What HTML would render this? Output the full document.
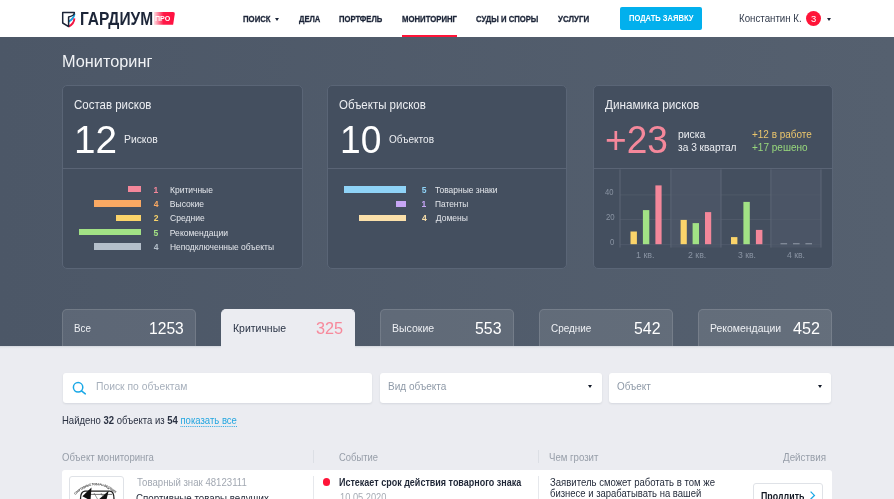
<!DOCTYPE html>
<html lang="ru"><head><meta charset="utf-8"><title>Мониторинг — Гардиум</title>
<style>
*{box-sizing:border-box;margin:0;padding:0}
html,body{width:894px;height:499px;overflow:hidden;background:#ebecf1}
body{position:relative;font-family:'Liberation Sans',Arial,sans-serif}
.t{position:absolute;white-space:nowrap;line-height:1;transform-origin:0 0}
.t b{font-weight:700}
.lt{-webkit-text-stroke:0.9px var(--bg)}
.nv{-webkit-text-stroke:0.3px currentColor}
.lnk{color:#24a6e0;border-bottom:1px dotted #24a6e0}
.abs{position:absolute}
#hdr{left:0;top:0;width:894px;height:37px;background:#fff}
#dark{left:0;top:37px;width:894px;height:309px;background:linear-gradient(90deg,#4c5767,#55606f)}
.card{position:absolute;top:85px;height:184px;background:#444f5f;border:1px solid #5a6576;border-radius:5px;overflow:hidden}
.card .div{position:absolute;left:0;right:0;top:82px;height:1px;background:#5a6475}
.bar{position:absolute;height:6.4px}
.tab{position:absolute;top:309px;width:134px;height:37px;background:rgba(255,255,255,0.095);border:1px solid rgba(255,255,255,0.12);border-bottom:none;border-radius:5px 5px 0 0}
.tab.act{background:#ebecf1;border-color:#ebecf1;height:41px}
.inp{position:absolute;top:372.6px;height:30px;background:#fff;border-radius:3px;box-shadow:0 1px 2px rgba(60,70,90,.12)}
.caret{position:absolute;width:0;height:0;border-left:2.3px solid transparent;border-right:2.3px solid transparent;border-top:3px solid #1c2538}
.caret.lg{border-left-width:2.4px;border-right-width:2.4px;border-top-width:3.4px;border-top-color:#111827}
.vsep{position:absolute;width:1px;background:#dcdfe5}
</style></head><body>
<div id="hdr" class="abs"></div>
<!-- logo shield -->
<svg class="abs" style="left:60px;top:9px" width="18" height="20" viewBox="0 0 18 20">
  <path d="M14.5 4.6 C14.2 8.2 12.2 10.6 8.6 12.6" fill="none" stroke="#1aa3e3" stroke-width="1.9"/>
  <path d="M14.4 9.4 C14.2 13.2 12.2 15.8 8.6 17.6" fill="none" stroke="#f21643" stroke-width="1.9"/>
  <path d="M2.7 3.4 H14.3 V4.2 C14.1 6.2 12.6 7.0 8.6 7.9 V17.6 L2.7 14.0 Z" fill="none" stroke="#1c2538" stroke-width="1.5" stroke-linejoin="round"/>
</svg>
<!-- ПРО badge -->
<div class="abs" style="left:153.5px;top:11.7px;width:21.6px;height:13px;border-radius:0 2px 2px 0;background:linear-gradient(90deg,rgba(255,20,60,.15) 0%,#ff1a48 45%,#ff0f3f 100%);clip-path:polygon(0 0,100% 0,91% 100%,0 100%)"></div>
<!-- nav carets -->
<div class="caret" style="left:275px;top:17.7px"></div>
<div class="abs" style="left:401.9px;top:35px;width:55px;height:2px;background:#ff1438"></div>
<div class="abs" style="left:619.5px;top:7px;width:82.6px;height:23.2px;background:#02b0ed;border-radius:2px"></div>
<div class="abs" style="left:806.3px;top:11px;width:15px;height:15px;border-radius:50%;background:#ff1438"></div>
<div class="caret" style="left:826.9px;top:18px"></div>

<div id="dark" class="abs"></div>
<div class="card" style="left:62px;width:241px"><div class="div"></div></div>
<div class="card" style="left:327px;width:240px"><div class="div"></div></div>
<div class="card" style="left:593px;width:240px"><div class="div"></div></div>

<!-- card1 bars -->
<div class="bar" style="left:128px;width:13px;top:186px;background:#f4879a"></div>
<div class="bar" style="left:93.7px;width:47.3px;top:200.3px;background:#faa963"></div>
<div class="bar" style="left:115.8px;width:25.2px;top:214.7px;background:#fbd46a"></div>
<div class="bar" style="left:79px;width:62px;top:229px;background:#a2e285"></div>
<div class="bar" style="left:93.7px;width:47.3px;top:243.2px;background:#b4bfca"></div>
<!-- card2 bars -->
<div class="bar" style="left:343.9px;width:62px;top:186.2px;background:#8fd3f7"></div>
<div class="bar" style="left:396.1px;width:9.9px;top:200.8px;background:#c7a6f5"></div>
<div class="bar" style="left:359.3px;width:46.6px;top:214.7px;background:#fbe0aa"></div>

<!-- chart -->
<svg class="abs" style="left:593.6px;top:168.6px" width="240" height="100" viewBox="593.6 168.6 240 100">
  <rect x="670.5" y="169.1" width="50.1" height="78.1" fill="#4b5566"/>
  <rect x="770.5" y="169.1" width="50.1" height="78.1" fill="#4b5566"/>
  <g stroke="#4f5969" stroke-width="1">
    <line x1="619.6" y1="194.5" x2="820.6" y2="194.5"/>
    <line x1="619.6" y1="219.1" x2="820.6" y2="219.1"/>
    <line x1="619.6" y1="244.2" x2="820.6" y2="244.2"/>
  </g>
  <g stroke="#5d6776" stroke-width="1">
    <line x1="619.6" y1="169" x2="619.6" y2="247.2"/>
    <line x1="670.5" y1="169" x2="670.5" y2="247.2"/>
    <line x1="720.6" y1="169" x2="720.6" y2="247.2"/>
    <line x1="770.5" y1="169" x2="770.5" y2="247.2"/>
    <line x1="820.6" y1="169" x2="820.6" y2="247.2"/>
  </g>
  <rect x="630.1" y="231.1" width="6.4" height="12.7" fill="#fbd46a"/>
  <rect x="642.5" y="209.7" width="6.4" height="34.1" fill="#a2e285"/>
  <rect x="655.0" y="185.0" width="6.2" height="58.8" fill="#f4879a"/>
  <rect x="680.2" y="219.5" width="6.2" height="24.3" fill="#fbd46a"/>
  <rect x="692.2" y="222.7" width="6.4" height="21.1" fill="#a2e285"/>
  <rect x="704.6" y="211.7" width="6.2" height="32.1" fill="#f4879a"/>
  <rect x="730.6" y="236.7" width="6.4" height="7.1" fill="#fbd46a"/>
  <rect x="743.0" y="201.5" width="6.4" height="42.3" fill="#a2e285"/>
  <rect x="755.5" y="229.5" width="6.5" height="14.3" fill="#f4879a"/>
  <g fill="#8d96a3">
    <rect x="780.1" y="242.8" width="6.6" height="1.1"/>
    <rect x="792.6" y="242.8" width="6.6" height="1.1"/>
    <rect x="805.0" y="242.8" width="6.6" height="1.1"/>
  </g>
</svg>

<div class="abs" style="left:0;top:346px;width:894px;height:3px;background:linear-gradient(#d3d6dd,#e7e9ee 60%,#ebecf1)"></div>
<!-- tabs -->
<div class="tab" style="left:62px"></div>
<div class="tab act" style="left:221px"></div>
<div class="tab" style="left:380px"></div>
<div class="tab" style="left:539px"></div>
<div class="tab" style="left:698px"></div>

<!-- inputs -->
<div class="inp" style="left:62.9px;width:308.8px"></div>
<div class="inp" style="left:379.6px;width:222.2px"></div>
<div class="inp" style="left:609.4px;width:222px"></div>
<svg class="abs" style="left:70px;top:379px" width="20" height="18" viewBox="0 0 20 18">
  <circle cx="8.1" cy="8.3" r="4.7" fill="none" stroke="#1aa8e6" stroke-width="1.5"/>
  <line x1="11.5" y1="11.8" x2="15.3" y2="14.9" stroke="#1aa8e6" stroke-width="1.5" stroke-linecap="round"/>
</svg>
<div class="caret lg" style="left:587.8px;top:385.4px"></div>
<div class="caret lg" style="left:817.5px;top:385.4px"></div>

<!-- table -->
<div class="vsep" style="left:313.4px;top:450px;height:13px"></div>
<div class="vsep" style="left:537.6px;top:450px;height:13px"></div>
<div class="abs" style="left:62px;top:470.2px;width:769.7px;height:40px;background:#fff;border-radius:3px"></div>
<div class="vsep" style="left:313.4px;top:475.5px;height:30px;background:#e6e8ec"></div>
<div class="vsep" style="left:537.6px;top:475.5px;height:30px;background:#e6e8ec"></div>
<div class="abs" style="left:68.5px;top:476.2px;width:55.2px;height:30px;border:1px solid #dfe2e7;border-radius:3px"></div>
<svg class="abs" style="left:68px;top:476px" width="56" height="23" viewBox="0 0 56 23">
  <defs><path id="arc" d="M7.2 19 Q27.8 -0.6 49.2 19"/></defs>
  <text font-family="Liberation Sans, sans-serif" font-size="3.2" font-weight="700" fill="#2a2a2a" textLength="45" lengthAdjust="spacingAndGlyphs"><textPath href="#arc" textLength="45" lengthAdjust="spacingAndGlyphs">СПОРТИВНЫЕ ТОВАРЫ ВЕДУЩИХ</textPath></text>
  <path d="M12.5 23 C12.5 17.4 14 15.4 17 15.2 H42 C45 15.4 46 17.6 46 23" fill="none" stroke="#222" stroke-width="1.3"/>
  <path d="M17 18.4 H44" stroke="#333" stroke-width="0.7"/>
  <path d="M23.5 11.6 L14.4 20.3 L19.6 23 L22.6 23 Z" fill="#111"/>
  <path d="M40.7 14.7 L31.3 23 L38.6 23 Z" fill="#111"/>
  <path d="M26 17 L29.5 23 M33 17 L35 21" stroke="#555" stroke-width="0.6"/>
</svg>
<div class="abs" style="left:322.7px;top:478.4px;width:7.6px;height:7.6px;border-radius:50%;background:#ff1438"></div>
<div class="abs" style="left:752.5px;top:483.4px;width:70.8px;height:24px;border:1px solid #dfe2e7;border-radius:3px"></div>
<svg class="abs" style="left:808px;top:490px" width="10" height="10" viewBox="0 0 10 10">
  <path d="M2.6 1.6 L6.4 5.4 L2.6 9.2" fill="none" stroke="#1aa8e6" stroke-width="1.3"/>
</svg>

<div class="t" style="left:79.50px;top:9.63px;font-size:18.55px;font-weight:700;color:#1c2538;transform:scaleX(0.8365);">ГАРДИУМ</div>
<div class="t nv" style="left:242.50px;top:14.94px;font-size:9.13px;font-weight:700;color:#1c2538;transform:scaleX(0.8520);">ПОИСК</div>
<div class="t nv" style="left:299.00px;top:14.94px;font-size:9.13px;font-weight:700;color:#1c2538;transform:scaleX(0.8357);">ДЕЛА</div>
<div class="t nv" style="left:339.30px;top:14.94px;font-size:9.13px;font-weight:700;color:#1c2538;transform:scaleX(0.8384);">ПОРТФЕЛЬ</div>
<div class="t nv" style="left:401.60px;top:14.94px;font-size:9.13px;font-weight:700;color:#1c2538;transform:scaleX(0.8492);">МОНИТОРИНГ</div>
<div class="t nv" style="left:475.80px;top:14.94px;font-size:9.13px;font-weight:700;color:#1c2538;transform:scaleX(0.8425);">СУДЫ И СПОРЫ</div>
<div class="t nv" style="left:557.60px;top:14.94px;font-size:9.13px;font-weight:700;color:#1c2538;transform:scaleX(0.8667);">УСЛУГИ</div>
<div class="t" style="left:628.70px;top:13.73px;font-size:8.55px;font-weight:700;color:#ffffff;transform:scaleX(0.8851);">ПОДАТЬ ЗАЯВКУ</div>
<div class="t" style="left:738.80px;top:13.90px;font-size:10.0px;font-weight:400;color:#323b4c;transform:scaleX(0.9721);">Константин К.</div>
<div class="t" style="left:155.20px;top:15.56px;font-size:6.52px;font-weight:700;color:#ffffff;transform:scaleX(1.0907);">ПРО</div>
<div class="t" style="left:810.80px;top:15.16px;font-size:8.99px;font-weight:400;color:#ffffff;transform:scaleX(1.0480);">3</div>
<div class="t" style="left:61.60px;top:54.26px;font-size:16.52px;font-weight:400;color:#f0f2f5;transform:scaleX(0.9872);">Мониторинг</div>
<div class="t" style="left:74.40px;top:99.43px;font-size:12.32px;font-weight:400;color:#eceef2;transform:scaleX(0.9327);">Состав рисков</div>
<div class="t" style="left:339.00px;top:99.43px;font-size:12.32px;font-weight:400;color:#eceef2;transform:scaleX(0.9337);">Объекты рисков</div>
<div class="t" style="left:604.90px;top:98.83px;font-size:12.32px;font-weight:400;color:#eceef2;transform:scaleX(0.9527);">Динамика рисков</div>
<div class="t" style="left:74.30px;top:119.84px;font-size:39.13px;font-weight:400;color:#ffffff;transform:scaleX(0.9885);">12</div>
<div class="t" style="left:339.80px;top:119.84px;font-size:39.13px;font-weight:400;color:#ffffff;transform:scaleX(0.9500);">10</div>
<div class="t" style="left:605.30px;top:119.84px;font-size:39.13px;font-weight:400;color:#f5889b;transform:scaleX(0.9474);">+23</div>
<div class="t" style="left:124.20px;top:134.53px;font-size:10.43px;font-weight:400;color:#eceef2;transform:scaleX(0.9939);">Рисков</div>
<div class="t" style="left:389.40px;top:134.53px;font-size:10.43px;font-weight:400;color:#eceef2;transform:scaleX(0.9639);">Объектов</div>
<div class="t" style="left:677.80px;top:128.76px;font-size:10.87px;font-weight:400;color:#eceef2;transform:scaleX(0.9590);">риска</div>
<div class="t" style="left:677.80px;top:141.96px;font-size:10.87px;font-weight:400;color:#eceef2;transform:scaleX(0.9358);">за 3 квартал</div>
<div class="t" style="left:752.10px;top:128.76px;font-size:10.87px;font-weight:400;color:#ebc66c;transform:scaleX(0.9160);">+12 в работе</div>
<div class="t" style="left:752.10px;top:141.96px;font-size:10.87px;font-weight:400;color:#98d87c;transform:scaleX(0.9215);">+17 решено</div>
<div class="t" style="left:153.45px;top:185.53px;font-size:8.55px;font-weight:700;color:#f4879a;">1</div>
<div class="t" style="left:170.30px;top:185.53px;font-size:8.55px;font-weight:400;color:#e4e7ec;transform:scaleX(0.9917);">Критичные</div>
<div class="t" style="left:153.70px;top:200.43px;font-size:8.55px;font-weight:700;color:#faa963;">4</div>
<div class="t" style="left:169.80px;top:200.43px;font-size:8.55px;font-weight:400;color:#e4e7ec;">Высокие</div>
<div class="t" style="left:153.70px;top:214.33px;font-size:8.55px;font-weight:700;color:#fbd46a;">2</div>
<div class="t" style="left:170.05px;top:214.33px;font-size:8.55px;font-weight:400;color:#e4e7ec;">Средние</div>
<div class="t" style="left:153.45px;top:229.23px;font-size:8.55px;font-weight:700;color:#a2e285;">5</div>
<div class="t" style="left:169.80px;top:229.23px;font-size:8.55px;font-weight:400;color:#e4e7ec;">Рекомендации</div>
<div class="t" style="left:153.70px;top:243.13px;font-size:8.55px;font-weight:700;color:#b4bfca;">4</div>
<div class="t" style="left:170.30px;top:243.13px;font-size:8.55px;font-weight:400;color:#e4e7ec;transform:scaleX(0.9861);">Неподключенные объекты</div>
<div class="t" style="left:421.80px;top:185.53px;font-size:8.55px;font-weight:700;color:#8fd3f7;">5</div>
<div class="t" style="left:435.30px;top:185.53px;font-size:8.55px;font-weight:400;color:#e4e7ec;transform:scaleX(0.9888);">Товарные знаки</div>
<div class="t" style="left:421.55px;top:200.43px;font-size:8.55px;font-weight:700;color:#c7a6f5;">1</div>
<div class="t" style="left:435.30px;top:200.43px;font-size:8.55px;font-weight:400;color:#e4e7ec;transform:scaleX(0.9786);">Патенты</div>
<div class="t" style="left:422.05px;top:214.33px;font-size:8.55px;font-weight:700;color:#fbe0aa;">4</div>
<div class="t" style="left:435.80px;top:214.33px;font-size:8.55px;font-weight:400;color:#e4e7ec;">Домены</div>
<div class="t" style="left:605.20px;top:188.13px;font-size:8.55px;font-weight:400;color:#8a94a3;transform:scaleX(0.8889);">40</div>
<div class="t" style="left:605.70px;top:213.43px;font-size:8.55px;font-weight:400;color:#8a94a3;transform:scaleX(0.9143);">20</div>
<div class="t" style="left:610.10px;top:237.53px;font-size:8.55px;font-weight:400;color:#8a94a3;transform:scaleX(0.9005);">0</div>
<div class="t" style="left:635.80px;top:250.83px;font-size:8.55px;font-weight:400;color:#8a94a3;transform:scaleX(1.0431);">1 кв.</div>
<div class="t" style="left:687.60px;top:250.83px;font-size:8.55px;font-weight:400;color:#8a94a3;transform:scaleX(1.0271);">2 кв.</div>
<div class="t" style="left:737.50px;top:250.83px;font-size:8.55px;font-weight:400;color:#8a94a3;transform:scaleX(1.0120);">3 кв.</div>
<div class="t" style="left:786.60px;top:250.83px;font-size:8.55px;font-weight:400;color:#8a94a3;transform:scaleX(1.0120);">4 кв.</div>
<div class="t" style="left:73.90px;top:323.44px;font-size:11.01px;font-weight:400;color:#eef0f4;transform:scaleX(0.8944);">Все</div>
<div class="t" style="left:149.40px;top:320.08px;font-size:16.38px;font-weight:400;color:#ffffff;transform:scaleX(0.9551);">1253</div>
<div class="t" style="left:232.90px;top:323.44px;font-size:11.01px;font-weight:400;color:#2a3345;transform:scaleX(0.9512);">Критичные</div>
<div class="t" style="left:316.00px;top:320.08px;font-size:16.38px;font-weight:400;color:#f7899b;transform:scaleX(0.9942);">325</div>
<div class="t" style="left:391.90px;top:323.44px;font-size:11.01px;font-weight:400;color:#eef0f4;transform:scaleX(0.9579);">Высокие</div>
<div class="t" style="left:475.10px;top:320.08px;font-size:16.38px;font-weight:400;color:#ffffff;transform:scaleX(0.9709);">553</div>
<div class="t" style="left:551.40px;top:323.44px;font-size:11.01px;font-weight:400;color:#eef0f4;transform:scaleX(0.9012);">Средние</div>
<div class="t" style="left:634.10px;top:320.08px;font-size:16.38px;font-weight:400;color:#ffffff;transform:scaleX(0.9709);">542</div>
<div class="t" style="left:709.90px;top:323.44px;font-size:11.01px;font-weight:400;color:#eef0f4;transform:scaleX(0.9488);">Рекомендации</div>
<div class="t" style="left:793.10px;top:320.08px;font-size:16.38px;font-weight:400;color:#ffffff;transform:scaleX(0.9905);">452</div>
<div class="t" style="left:95.50px;top:381.14px;font-size:11.01px;font-weight:400;color:#a7b0bc;transform:scaleX(0.9387);">Поиск по объектам</div>
<div class="t" style="left:388.00px;top:381.14px;font-size:11.01px;font-weight:400;color:#8f9aa8;transform:scaleX(0.9135);">Вид объекта</div>
<div class="t" style="left:617.00px;top:381.14px;font-size:11.01px;font-weight:400;color:#8f9aa8;transform:scaleX(0.9007);">Объект</div>
<div class="t" style="left:62.00px;top:416.25px;font-size:10.29px;font-weight:400;color:#2a3142;transform:scaleX(0.9257);">Найдено <b>32</b> объекта из <b>54</b> <span class="lnk">показать все</span></div>
<div class="t" style="left:61.60px;top:453.18px;font-size:10.14px;font-weight:400;color:#979ea9;transform:scaleX(0.9452);">Объект мониторинга</div>
<div class="t" style="left:339.40px;top:453.18px;font-size:10.14px;font-weight:400;color:#979ea9;transform:scaleX(0.9281);">Событие</div>
<div class="t" style="left:548.90px;top:453.18px;font-size:10.14px;font-weight:400;color:#979ea9;transform:scaleX(0.9510);">Чем грозит</div>
<div class="t" style="left:783.30px;top:453.18px;font-size:10.14px;font-weight:400;color:#979ea9;transform:scaleX(0.9690);">Действия</div>
<div class="t" style="left:136.50px;top:478.18px;font-size:10.14px;font-weight:400;color:#a2a8b2;transform:scaleX(0.9503);">Товарный знак 48123111</div>
<div class="t" style="left:136.00px;top:493.05px;font-size:11.59px;font-weight:400;color:#1f2636;transform:scaleX(0.8406);">Спортивные товары ведущих</div>
<div class="t" style="left:339.30px;top:477.90px;font-size:10.0px;font-weight:700;color:#1f2636;transform:scaleX(0.8993);">Истекает срок действия товарного знака</div>
<div class="t" style="left:340.00px;top:492.93px;font-size:10.43px;font-weight:400;color:#a6acb5;transform:scaleX(0.8892);">10.05.2020</div>
<div class="t" style="left:550.40px;top:477.78px;font-size:10.14px;font-weight:400;color:#1f2636;transform:scaleX(0.9439);">Заявитель сможет работать в том же</div>
<div class="t" style="left:550.40px;top:488.98px;font-size:10.14px;font-weight:400;color:#1f2636;transform:scaleX(0.9366);">бизнесе и зарабатывать на вашей</div>
<div class="t" style="left:760.50px;top:491.88px;font-size:10.14px;font-weight:700;color:#111722;transform:scaleX(0.8712);">Продлить</div>
</body></html>
